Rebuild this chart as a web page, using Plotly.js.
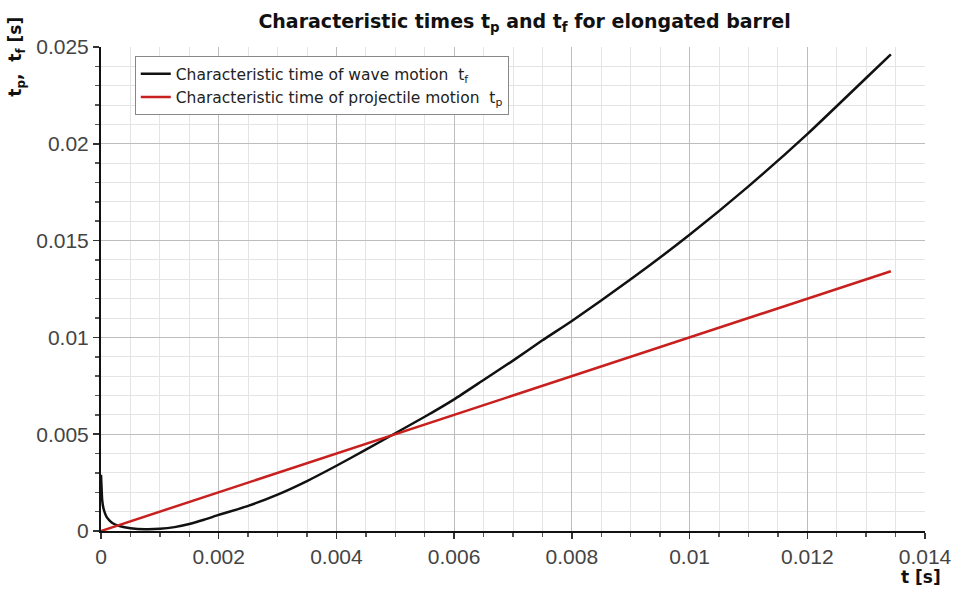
<!DOCTYPE html>
<html>
<head>
<meta charset="utf-8">
<script src="https://cdn.plot.ly/plotly-3.0.1.min.js"></script>
<style>html,body{margin:0;padding:0;background:#fff;}#chart{width:959px;height:589px;}</style>
</head>
<body>
<div id="chart"></div>
<script>
// Characteristic time of wave motion t_f
const tfTime = [0, 0.00001, 0.00002, 0.00004, 0.00007, 0.0001, 0.00015, 0.0002, 0.0003, 0.0004, 0.0005, 0.00075, 0.001, 0.00125, 0.0015, 0.00175, 0.002, 0.0025, 0.003, 0.0035, 0.004, 0.0045, 0.005, 0.0055, 0.006, 0.0065, 0.007, 0.0075, 0.008, 0.009, 0.01, 0.011, 0.012, 0.013, 0.01342];
const tfValues = [0.0029, 0.0022, 0.0016, 0.0012, 0.0009, 0.0007, 0.00052, 0.0004, 0.00027, 0.00019, 0.00014, 0.00009, 0.00011, 0.0002, 0.00036, 0.00058, 0.00083, 0.0013, 0.00188, 0.00258, 0.00337, 0.0042, 0.00505, 0.0059, 0.0068, 0.0078, 0.0088, 0.00985, 0.01085, 0.0130, 0.0153, 0.0178, 0.0205, 0.0234, 0.02462];
// Characteristic time of projectile motion t_p
const tpTime = [0, 0.005, 0.01342];
const tpValues = [0, 0.005, 0.01342];

const xTickVals = [0, 0.002, 0.004, 0.006, 0.008, 0.01, 0.012, 0.014];
const xTickText = ['0', '0.002', '0.004', '0.006', '0.008', '0.01', '0.012', '0.014'];
const yTickVals = [0, 0.005, 0.01, 0.015, 0.02, 0.025];
const yTickText = ['0', '0.005', '0.01', '0.015', '0.02', '0.025'];

const traces = [
  {x: tfTime, y: tfValues, type: 'scatter', mode: 'lines', line: {color: '#111111', width: 2.5, shape: 'spline', smoothing: 0.5},
   name: 'Characteristic time of wave motion  t<sub>f</sub>'},
  {x: tpTime, y: tpValues, type: 'scatter', mode: 'lines', line: {color: '#c8201e', width: 2.5},
   name: 'Characteristic time of projectile motion  t<sub>p</sub>'}
];

const tickFont = {family: 'Liberation Sans, Arial, sans-serif', size: 21, color: '#444'};

const layout = {
  width: 959, height: 589,
  margin: {l: 101, r: 34, t: 47, b: 58},
  paper_bgcolor: '#fff', plot_bgcolor: '#fff',
  showlegend: true,
  title: {text: '<b>Characteristic times t<sub>p</sub> and t<sub>f</sub> for elongated barrel</b>',
          font: {family: 'DejaVu Sans, sans-serif', size: 19, color: '#111'},
          x: 0.547, xanchor: 'center', y: 0.963, yanchor: 'middle'},
  xaxis: {range: [0, 0.014], tickvals: xTickVals, ticktext: xTickText, tickfont: tickFont,
          showline: true, linecolor: '#111', linewidth: 2, ticks: 'outside', ticklen: 6, tickcolor: '#333', tickwidth: 1.5,
          showgrid: true, gridcolor: '#bdbdbd', gridwidth: 1.2, zeroline: false, fixedrange: true,
          minor: {dtick: 0.0005, tick0: 0, showgrid: true, gridcolor: '#e4e4e4', gridwidth: 1, ticks: 'outside', ticklen: 4, tickcolor: '#555'}},
  yaxis: {range: [0, 0.025], tickvals: yTickVals, ticktext: yTickText, tickfont: tickFont,
          showline: true, linecolor: '#111', linewidth: 2, ticks: 'outside', ticklen: 6, tickcolor: '#333', tickwidth: 1.5,
          showgrid: true, gridcolor: '#bdbdbd', gridwidth: 1.2, zeroline: false, fixedrange: true,
          minor: {dtick: 0.001, tick0: 0, showgrid: true, gridcolor: '#e4e4e4', gridwidth: 1, ticks: 'outside', ticklen: 4, tickcolor: '#555'}},
  legend: {x: 0.041, y: 0.981, xanchor: 'left', yanchor: 'top', bgcolor: '#fff', bordercolor: '#888', borderwidth: 1,
           font: {family: 'DejaVu Sans, sans-serif', size: 15.5, color: '#222'}, tracegroupgap: 0, itemwidth: 30},
  annotations: [
    {text: '<b>t<sub>p</sub>,  t<sub>f</sub> [s]</b>', xref: 'paper', yref: 'paper', x: -0.102, y: 0.98,
     xanchor: 'center', yanchor: 'middle', textangle: -90, showarrow: false,
     font: {family: 'DejaVu Sans, sans-serif', size: 17, color: '#111'}},
    {text: '<b>t [s]</b>', xref: 'paper', yref: 'paper', x: 1.022, y: -0.1198, xanchor: 'right', yanchor: 'bottom',
     showarrow: false, font: {family: 'DejaVu Sans, sans-serif', size: 17, color: '#111'}}
  ]
};

Plotly.newPlot('chart', traces, layout, {displayModeBar: false, staticPlot: true});
</script>
</body>
</html>
